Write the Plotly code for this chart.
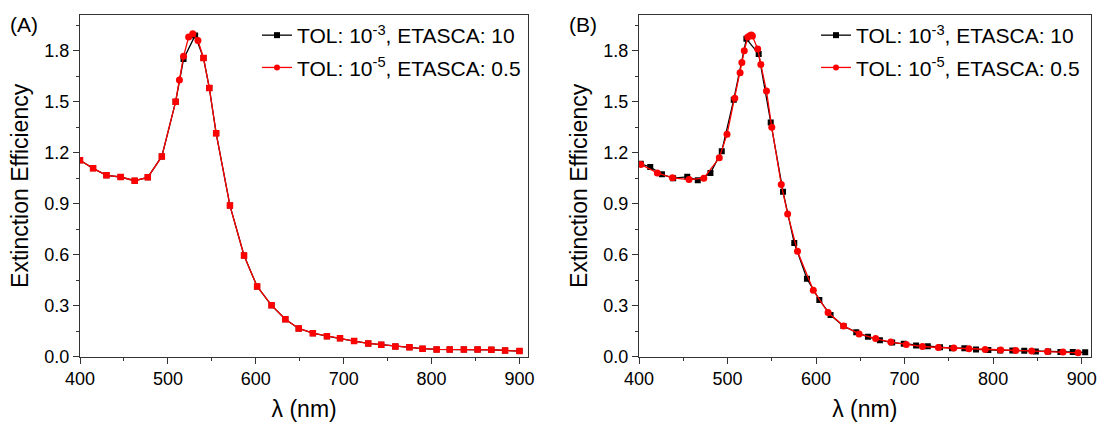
import plotly.graph_objects as go

# ---------------------------------------------------------------------------
# Extinction efficiency spectra (DDSCAT runs with two convergence settings)
# ---------------------------------------------------------------------------

LABEL_COARSE = "TOL: 10<sup>-3</sup>, ETASCA: 10"
LABEL_FINE = "TOL: 10<sup>-5</sup>, ETASCA: 0.5"

# Panel (A) -- TOL 1e-3, ETASCA 10
a_wl_tol3 = [400.0, 414.9, 430.1, 446.2, 462.2, 477.1, 493.1, 508.8, 517.8, 531.0,
             540.5, 547.1, 554.9, 570.6, 586.6, 601.5, 617.9, 633.6, 648.8, 664.9,
             680.9, 695.8, 711.8, 727.9, 742.7, 758.8, 774.8, 789.7, 805.7, 820.6,
             836.7, 852.3, 868.0, 883.6, 900.0]
a_ext_tol3 = [1.156, 1.108, 1.067, 1.057, 1.035, 1.055, 1.178, 1.500, 1.751, 1.890,
              1.757, 1.581, 1.314, 0.889, 0.595, 0.413, 0.302, 0.220, 0.166, 0.138,
              0.121, 0.109, 0.092, 0.078, 0.070, 0.060, 0.055, 0.047, 0.043, 0.043,
              0.043, 0.043, 0.041, 0.037, 0.033]

# Panel (A) -- TOL 1e-5, ETASCA 0.5: regular grid points and the refined peak points
a_wl_tol5_grid = [400.0, 414.9, 430.1, 446.2, 462.2, 477.1, 493.1, 508.8, 540.5, 547.1,
                  554.9, 570.6, 586.6, 601.5, 617.9, 633.6, 648.8, 664.9, 680.9, 695.8,
                  711.8, 727.9, 742.7, 758.8, 774.8, 789.7, 805.7, 820.6, 836.7, 852.3,
                  868.0, 883.6, 900.0]
a_ext_tol5_grid = [1.156, 1.108, 1.067, 1.057, 1.035, 1.055, 1.178, 1.500, 1.757, 1.581,
                   1.314, 0.889, 0.595, 0.413, 0.302, 0.220, 0.166, 0.138, 0.121, 0.109,
                   0.092, 0.078, 0.070, 0.060, 0.055, 0.047, 0.043, 0.043, 0.043, 0.043,
                   0.041, 0.037, 0.033]
a_wl_tol5_peak = [513.1, 517.8, 523.6, 528.3, 534.2]
a_ext_tol5_peak = [1.628, 1.767, 1.880, 1.899, 1.860]

# Panel (B) -- TOL 1e-3, ETASCA 10
b_wl_tol3 = [402.0, 412.7, 425.9, 438.6, 454.5, 466.4, 480.7, 493.5, 507.0, 521.3,
             535.2, 548.8, 562.7, 575.4, 589.7, 603.7, 616.4, 631.0, 645.4, 658.6,
             672.1, 686.0, 699.1, 713.0, 726.2, 740.0, 753.5, 767.5, 780.7, 794.6,
             808.0, 821.7, 835.2, 848.3, 862.2, 876.0, 890.0, 904.0]
b_ext_tol3 = [1.135, 1.116, 1.073, 1.050, 1.058, 1.038, 1.081, 1.209, 1.512, 1.870,
              1.781, 1.378, 0.970, 0.669, 0.459, 0.334, 0.245, 0.180, 0.144, 0.117,
              0.097, 0.083, 0.076, 0.066, 0.062, 0.056, 0.050, 0.050, 0.043, 0.039,
              0.037, 0.037, 0.035, 0.031, 0.031, 0.028, 0.027, 0.026]

# Panel (B) -- TOL 1e-5, ETASCA 0.5
b_wl_tol5 = [402.0, 420.7, 437.8, 456.5, 473.2, 490.7, 499.4, 508.2, 514.2, 516.2,
             518.9, 522.9, 525.3, 526.9, 528.1, 534.1, 537.6, 544.0, 550.0, 560.7,
             567.9, 579.0, 596.9, 613.6, 631.1, 648.6, 667.3, 684.4, 701.9, 720.2,
             738.1, 755.6, 772.7, 791.0, 808.5, 825.6, 843.5, 861.4, 878.9, 896.0]
b_ext_tol5 = [1.131, 1.081, 1.052, 1.042, 1.050, 1.170, 1.308, 1.520, 1.670, 1.730,
              1.800, 1.880, 1.888, 1.892, 1.886, 1.810, 1.719, 1.563, 1.349, 1.013,
              0.840, 0.620, 0.391, 0.260, 0.181, 0.134, 0.107, 0.086, 0.072, 0.060,
              0.054, 0.051, 0.047, 0.043, 0.039, 0.037, 0.033, 0.031, 0.027, 0.023]

# Axis settings
x_range = [400, 910]
y_range = [0, 2.01]
x_ticks = [400, 500, 600, 700, 800, 900]
y_ticks = [0.0, 0.3, 0.6, 0.9, 1.2, 1.5, 1.8]

FONT = "Liberation Sans, Arial, Helvetica, sans-serif"
BLACK = "#000000"
RED = "#ff0000"
AXIS_COLOR = "#333333"
W, H = 1099, 425

fig = go.Figure()


def series(x, y, color, symbol, xa, ya, size=6, mode="lines+markers"):
    return go.Scatter(
        x=x, y=y, mode=mode, xaxis=xa, yaxis=ya, showlegend=False,
        line=dict(color=color, width=1.3),
        marker=dict(color=color, symbol=symbol, size=size),
        hoverinfo="x+y",
    )


def legend_entry(name, color, symbol, legend):
    return go.Scatter(
        x=[None], y=[None], mode="lines+markers", name=name, legend=legend,
        legendgroup=name + legend, xaxis="x", yaxis="y",
        line=dict(color=color, width=1.3),
        marker=dict(color=color, symbol=symbol, size=6),
    )


# ---- Panel (A)
fig.add_trace(series(a_wl_tol3, a_ext_tol3, BLACK, "square", "x", "y"))
a_pairs = sorted(zip(a_wl_tol5_grid + a_wl_tol5_peak, a_ext_tol5_grid + a_ext_tol5_peak))
fig.add_trace(series([p[0] for p in a_pairs], [p[1] for p in a_pairs], RED, "circle",
                     "x", "y", mode="lines"))
fig.add_trace(series(a_wl_tol5_grid, a_ext_tol5_grid, RED, "square", "x", "y", size=6.5,
                     mode="markers"))
fig.add_trace(series(a_wl_tol5_peak, a_ext_tol5_peak, RED, "circle", "x", "y", size=7,
                     mode="markers"))

# ---- Panel (B)
fig.add_trace(series(b_wl_tol3, b_ext_tol3, BLACK, "square", "x2", "y2"))
fig.add_trace(series(b_wl_tol5, b_ext_tol5, RED, "circle", "x2", "y2", size=7))

# ---- Legend entries
for lg in ("legend", "legend2"):
    fig.add_trace(legend_entry(LABEL_COARSE, BLACK, "square", lg))
    fig.add_trace(legend_entry(LABEL_FINE, RED, "circle", lg))


def px_x(v):
    return v / W


def px_y(v):
    return 1 - v / H


axis_common = dict(
    showline=True, linecolor=AXIS_COLOR, linewidth=1.3, mirror=True,
    ticks="outside", ticklen=6, tickwidth=1.2, tickcolor=AXIS_COLOR,
    showgrid=False, zeroline=False, automargin=False,
    tickfont=dict(family=FONT, size=18, color="#000000"),
)

x_common = dict(axis_common, range=x_range, tickvals=x_ticks,
                minor=dict(ticks="outside", ticklen=3, tickwidth=1.2, tickcolor=AXIS_COLOR,
                           dtick=50, tick0=400),
                title=dict(text="\u03bb (nm)", font=dict(family=FONT, size=23, color="#000000"),
                           standoff=12))
y_common = dict(axis_common, range=y_range, tickvals=y_ticks, tickformat=".1f",
                minor=dict(ticks="outside", ticklen=3, tickwidth=1.2, tickcolor=AXIS_COLOR,
                           dtick=0.15, tick0=0),
                title=dict(text="Extinction Efficiency",
                           font=dict(family=FONT, size=23, color="#000000"), standoff=9))

y_dom = [px_y(356.7), px_y(15)]

legend_common = dict(xanchor="left", yanchor="top", bgcolor="rgba(0,0,0,0)",
                     borderwidth=0, font=dict(family=FONT, size=21, color="#000000"),
                     traceorder="grouped", tracegroupgap=2)

fig.update_layout(
    template="none",
    width=W, height=H,
    margin=dict(l=0, r=0, t=0, b=0, autoexpand=False),
    paper_bgcolor="white", plot_bgcolor="white",
    font=dict(family=FONT, color="#000000"),
    xaxis=dict(x_common, domain=[px_x(80), px_x(528.3)], anchor="y"),
    yaxis=dict(y_common, domain=y_dom, anchor="x"),
    xaxis2=dict(x_common, domain=[px_x(639), px_x(1090.5)], anchor="y2"),
    yaxis2=dict(y_common, domain=y_dom, anchor="x2"),
    legend=dict(legend_common, x=px_x(257), y=px_y(15)),
    legend2=dict(legend_common, x=px_x(816), y=px_y(15)),
    annotations=[
        dict(text="(A)", x=px_x(23.5), y=px_y(24), xref="paper", yref="paper",
             xanchor="center", yanchor="middle", showarrow=False,
             font=dict(family=FONT, size=21, color="#000000")),
        dict(text="(B)", x=px_x(582.5), y=px_y(24), xref="paper", yref="paper",
             xanchor="center", yanchor="middle", showarrow=False,
             font=dict(family=FONT, size=21, color="#000000")),
    ],
)

fig.write_html("out.html")
